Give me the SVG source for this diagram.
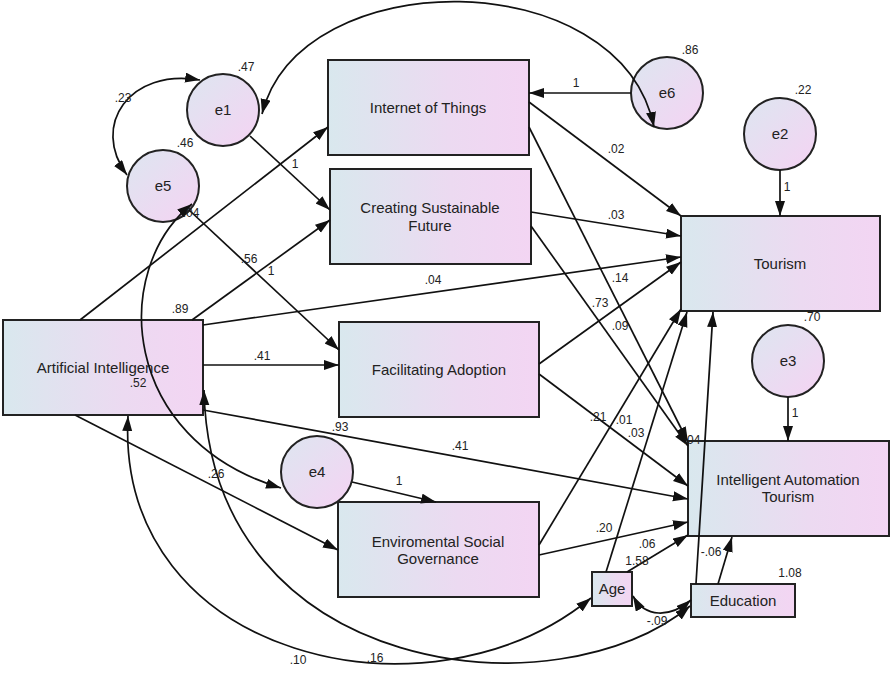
<svg xmlns="http://www.w3.org/2000/svg" width="892" height="674" viewBox="0 0 892 674">
<defs>
<linearGradient id="gBox" x1="0" y1="0" x2="1" y2="0">
<stop offset="0" stop-color="#d9e8ee"/>
<stop offset="0.6" stop-color="#ecdaf1"/>
<stop offset="1" stop-color="#f3d5f3"/>
</linearGradient>
<linearGradient id="gCir" x1="0" y1="0" x2="1" y2="1">
<stop offset="0" stop-color="#dde6f0"/>
<stop offset="1" stop-color="#f5d3f3"/>
</linearGradient>
<marker id="ah" markerUnits="userSpaceOnUse" markerWidth="16" markerHeight="11" refX="15" refY="5" orient="auto-start-reverse">
<path d="M0,0 L15,5 L0,10 z" fill="#111"/>
</marker>
<style>
.box{fill:url(#gBox);stroke:#222;stroke-width:2}
.cir{fill:url(#gCir);stroke:#222;stroke-width:2}
.nt{font-family:"Liberation Sans",Arial,sans-serif;font-size:15px;fill:#222;text-anchor:middle}
.lb{font-family:"Liberation Sans",Arial,sans-serif;font-size:12px;fill:#222;text-anchor:middle}
.c{fill:none;stroke:#111;stroke-width:1.7;marker-end:url(#ah)}
.cc{fill:none;stroke:#111;stroke-width:1.7;marker-start:url(#ah);marker-end:url(#ah)}
</style>
</defs>
<rect width="892" height="674" fill="#fff"/>

<g id="n-iot"><rect class="box" x="328" y="60" width="201" height="95"/><text class="nt" x="428" y="113">Internet of Things</text></g>
<g id="n-csf"><rect class="box" x="330" y="169" width="201" height="95"/><text class="nt" x="430" y="213">Creating Sustainable</text><text class="nt" x="430" y="231">Future</text></g>
<g id="n-fa"><rect class="box" x="339" y="322" width="200" height="95"/><text class="nt" x="439" y="375">Facilitating Adoption</text></g>
<g id="n-ai"><rect class="box" x="3" y="320" width="200" height="95"/><text class="nt" x="103" y="373">Artificial Intelligence</text></g>
<g id="n-tour"><rect class="box" x="681" y="216" width="199" height="95"/><text class="nt" x="780" y="269">Tourism</text></g>
<g id="n-iat"><rect class="box" x="688" y="441" width="201" height="95"/><text class="nt" x="788" y="485">Intelligent Automation</text><text class="nt" x="788" y="502">Tourism</text></g>
<g id="n-esg"><rect class="box" x="338" y="502" width="201" height="95"/><text class="nt" x="438" y="547">Enviromental Social</text><text class="nt" x="438" y="564">Governance</text></g>
<g id="n-age"><rect class="box" x="592" y="572" width="40" height="34"/><text class="nt" x="612" y="594">Age</text></g>
<g id="n-edu"><rect class="box" x="691" y="584" width="104" height="33"/><text class="nt" x="743" y="606">Education</text></g>
<g id="n-e1"><circle class="cir" cx="223" cy="110" r="36"/><text class="nt" x="223" y="115">e1</text></g>
<g id="n-e5"><circle class="cir" cx="163" cy="186" r="36"/><text class="nt" x="163" y="191">e5</text></g>
<g id="n-e6"><circle class="cir" cx="667" cy="93" r="36"/><text class="nt" x="667" y="98">e6</text></g>
<g id="n-e2"><circle class="cir" cx="780" cy="134" r="36"/><text class="nt" x="780" y="139">e2</text></g>
<g id="n-e3"><circle class="cir" cx="788" cy="361" r="36"/><text class="nt" x="788" y="366">e3</text></g>
<g id="n-e4"><circle class="cir" cx="317" cy="472" r="36"/><text class="nt" x="317" y="477">e4</text></g>

<g id="connectors">
<path class="c" d="M250,136 L330,210"/>
<path class="c" d="M80,320 L328,127"/>
<path class="c" d="M192,320 L330,220"/>
<path class="c" d="M203,325 L681,257"/>
<path class="c" d="M203,365 L339,365"/>
<path class="c" d="M203,410 L688,499"/>
<path class="c" d="M75,415 L338,550"/>
<path class="c" d="M189,210 L339,350"/>
<path class="c" d="M631,93 L529,93"/>
<path class="c" d="M529,102 L681,216"/>
<path class="c" d="M529,127 L688,442"/>
<path class="c" d="M531,212 L681,236"/>
<path class="c" d="M531,226 L688,446"/>
<path class="c" d="M539,364 L681,262"/>
<path class="c" d="M539,374 L688,486"/>
<path class="c" d="M539,545 L681,309"/>
<path class="c" d="M539,555 L688,522"/>
<path class="c" d="M606,572 L687,312"/>
<path class="c" d="M627,572 L688,535"/>
<path class="c" d="M696,584 L713,312"/>
<path class="c" d="M718,584 L732,537"/>
<path class="c" d="M780,170 L780,216"/>
<path class="c" d="M788,397 L788,441"/>
<path class="c" d="M352,482 L436,502"/>
<path class="cc" d="M200,80 C130,68 90,125 127,175"/>
<path class="cc" d="M262,114 C300,-38 620,-38 654,127"/>
<path class="cc" d="M192,204 C110,270 120,440 281,488"/>
<path class="cc" d="M128,416 C115,660 430,730 591,598"/>
<path class="cc" d="M204,390 C210,680 560,715 690,606"/>
<path class="cc" d="M633,596 C645,618 670,618 691,600"/>
</g>

<g id="labels">
<text class="lb" x="246" y="71">.47</text>
<text class="lb" x="123" y="102">.23</text>
<text class="lb" x="185" y="147">.46</text>
<text class="lb" x="191" y="217">.04</text>
<text class="lb" x="295" y="168">1</text>
<text class="lb" x="690" y="54">.86</text>
<text class="lb" x="803" y="94">.22</text>
<text class="lb" x="787" y="191">1</text>
<text class="lb" x="576" y="87">1</text>
<text class="lb" x="616" y="153">.02</text>
<text class="lb" x="616" y="219">.03</text>
<text class="lb" x="249" y="263">.56</text>
<text class="lb" x="271" y="275">1</text>
<text class="lb" x="180" y="313">.89</text>
<text class="lb" x="262" y="360">.41</text>
<text class="lb" x="138" y="387">.52</text>
<text class="lb" x="433" y="284">.04</text>
<text class="lb" x="620" y="282">.14</text>
<text class="lb" x="600" y="307">.73</text>
<text class="lb" x="620" y="330">.09</text>
<text class="lb" x="340" y="431">.93</text>
<text class="lb" x="460" y="450">.41</text>
<text class="lb" x="598" y="421">.21</text>
<text class="lb" x="624" y="424">.01</text>
<text class="lb" x="636" y="437">.03</text>
<text class="lb" x="692" y="444">.04</text>
<text class="lb" x="812" y="321">.70</text>
<text class="lb" x="795" y="417">1</text>
<text class="lb" x="216" y="478">.26</text>
<text class="lb" x="298" y="664">.10</text>
<text class="lb" x="399" y="485">1</text>
<text class="lb" x="604" y="532">.20</text>
<text class="lb" x="375" y="662">.16</text>
<text class="lb" x="647" y="548">.06</text>
<text class="lb" x="637" y="565">1.58</text>
<text class="lb" x="711" y="556">-.06</text>
<text class="lb" x="790" y="577">1.08</text>
<text class="lb" x="657" y="625">-.09</text>
</g>
</svg>
